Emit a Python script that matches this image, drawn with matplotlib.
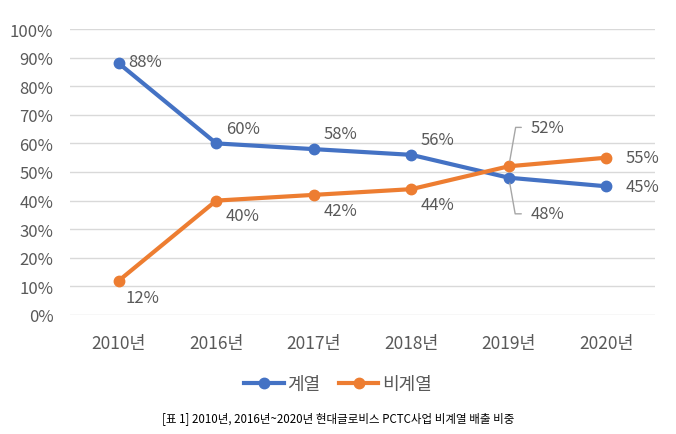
import matplotlib
matplotlib.use('Agg')
from matplotlib import pyplot as plt

plt.rcParams['font.family'] = ['Noto Sans CJK KR', 'DejaVu Sans']

years = ['2010년', '2016년', '2017년', '2018년', '2019년', '2020년']
captive = [88, 60, 58, 56, 48, 45]      # 계열
noncaptive = [12, 40, 42, 44, 52, 55]   # 비계열
yticks = [0, 10, 20, 30, 40, 50, 60, 70, 80, 90, 100]

blue = '#4472C4'
orange = '#ED7D31'
grey = '#595959'

fig = plt.figure(figsize=(6.76, 4.35), dpi=100)
ax = fig.add_axes([0.1036, 0.2736, 0.8654, 0.6574])

x = list(range(len(years)))
ax.plot(x, captive, color=blue, lw=3, marker='o', ms=7.5, label='계열', zorder=3)
ax.plot(x, noncaptive, color=orange, lw=3, marker='o', ms=7.5, label='비계열', zorder=3)

ax.set_xlim(-0.5, len(years) - 0.5)
ax.set_ylim(0, 100)
ax.set_yticks(yticks)
ax.set_yticklabels([f'{v}%' for v in yticks])
ax.set_xticks(x)
ax.set_xticklabels(years)
ax.grid(axis='y', color='#d9d9d9', lw=1)
ax.set_axisbelow(True)
for s in ax.spines.values():
    s.set_visible(False)
ax.tick_params(length=0, colors=grey, labelsize=12)
ax.tick_params(axis='x', pad=14, labelsize=12.5)
ax.tick_params(axis='y', pad=12)

# data labels
lab = dict(color=grey, fontsize=12, va='center')
ax.annotate(f'{captive[0]}%', (0, captive[0]), xytext=(7, 1), textcoords='offset points', **lab)
for i in (1, 2, 3):
    ax.annotate(f'{captive[i]}%', (i, captive[i]), xytext=(7, 11), textcoords='offset points', **lab)
ax.annotate(f'{captive[5]}%', (5, captive[5]), xytext=(14, 0), textcoords='offset points', **lab)
ax.annotate(f'{noncaptive[5]}%', (5, noncaptive[5]), xytext=(14, 0), textcoords='offset points', **lab)
ax.annotate(f'{noncaptive[0]}%', (0, noncaptive[0]), xytext=(5, -12), textcoords='offset points', **lab)
for i in (1, 2, 3):
    ax.annotate(f'{noncaptive[i]}%', (i, noncaptive[i]), xytext=(7, -11), textcoords='offset points', **lab)

# 2019 labels with leader lines
ax.annotate(f'{noncaptive[4]}%', (4, noncaptive[4]), xytext=(16, 28), textcoords='offset points',
            arrowprops=dict(arrowstyle='-', color='#a6a6a6', lw=1,
                            connectionstyle='angle,angleA=180,angleB=80,rad=0',
                            shrinkA=5, shrinkB=4), **lab)
ax.annotate(f'{captive[4]}%', (4, captive[4]), xytext=(16, -26), textcoords='offset points',
            arrowprops=dict(arrowstyle='-', color='#a6a6a6', lw=1,
                            connectionstyle='angle,angleA=180,angleB=-80,rad=0',
                            shrinkA=5, shrinkB=4), **lab)

fig.legend(loc='center', bbox_to_anchor=(0.5, 0.114), ncol=2, frameon=False,
           fontsize=13, labelcolor=grey, handlelength=2.2, handletextpad=0.2,
           columnspacing=1.0)

fig.text(0.5, 0.038, '[표 1] 2010년, 2016년~2020년 현대글로비스 PCTC사업 비계열 배출 비중',
         ha='center', va='center', fontsize=8.3, color='black')

fig.savefig('out.png', dpi=100)
